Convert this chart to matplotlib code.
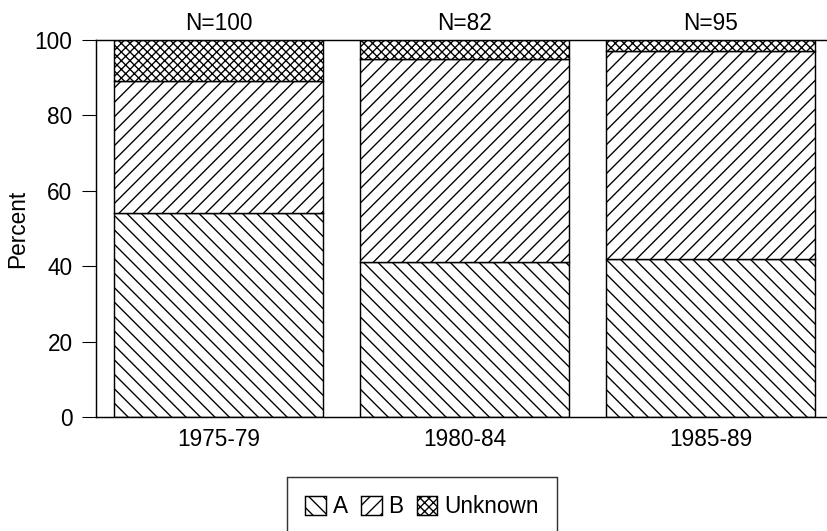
import matplotlib
matplotlib.use("Agg")
import matplotlib.pyplot as plt
import numpy as np

plt.rcParams['font.family'] = ['Liberation Sans', 'DejaVu Sans']
plt.rcParams['hatch.linewidth'] = 0.75

periods = ["1975-79", "1980-84", "1985-89"]
n_labels = ["N=100", "N=82", "N=95"]
pct_a = [54, 41, 42]
pct_b = [35, 54, 55]
pct_unknown = [11, 5, 3]

DPI = 130
FS = 12.5
fig = plt.figure(figsize=(827 / DPI, 531 / DPI), dpi=DPI)
ax = fig.add_axes([96 / 827, 1 - 417 / 531, 1.005 - 96 / 827, (417 - 40) / 531])

x = np.arange(len(periods))
w = 0.85
ba = ax.bar(x, pct_a, w, color="white", edgecolor="black", linewidth=0.8,
            hatch="\\\\\\", label="A")
bb = ax.bar(x, pct_b, w, bottom=pct_a, color="white", edgecolor="black",
            linewidth=0.8, hatch="///", label="B")
bottom_u = np.array(pct_a) + np.array(pct_b)
bu = ax.bar(x, pct_unknown, w, bottom=bottom_u, color="white",
            edgecolor="black", linewidth=0.8, hatch="xxxxx", label="Unknown")

ax.set_xlim(-0.498, 2.49)
ax.set_ylim(0, 100)
ax.set_yticks(range(0, 101, 20))
ax.set_xticks(x)
ax.set_xticklabels(periods, fontsize=FS)
ax.tick_params(axis="x", length=0, pad=6)
ax.tick_params(axis="y", length=7.5, width=0.6, labelsize=FS, pad=5.5)
ax.set_ylabel("Percent", fontsize=FS, labelpad=3)
for s in ax.spines.values():
    s.set_linewidth(0.8)

for xi, lab in zip(x, n_labels):
    ax.text(xi, 1.012, lab, transform=ax.get_xaxis_transform(),
            ha="center", va="bottom", fontsize=FS)

leg = fig.legend(handles=[ba, bb, bu], loc="upper center",
                 bbox_to_anchor=(422 / 827, 1 - 477 / 531), ncol=3,
                 fontsize=FS, frameon=True, fancybox=False,
                 edgecolor="black", handlelength=0.9, handleheight=0.9,
                 handletextpad=0.3, columnspacing=0.6, borderpad=0.8,
                 borderaxespad=0)
leg.get_frame().set_linewidth(0.8)

fig.savefig("out.png", dpi=DPI)
